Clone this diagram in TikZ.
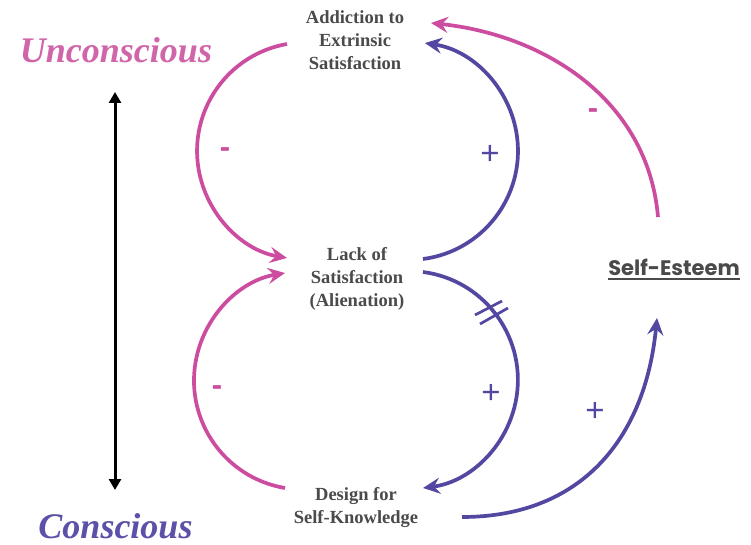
\documentclass[tikz,border=0pt]{standalone}
\usepackage{fontspec}
\setmainfont{Liberation Serif}
\newfontfamily\sesans{Poppins}
\newfontfamily\signfont{Liberation Sans}
\usetikzlibrary{arrows.meta}
\definecolor{pinkc}{HTML}{CC4D9F}
\definecolor{purpc}{HTML}{5247A1}
\definecolor{txtc}{HTML}{4A4A4A}
\definecolor{uncc}{HTML}{D065A9}
\definecolor{conc}{HTML}{5B51A8}
\begin{document}
\begin{tikzpicture}[x=1pt,y=1pt,
  lbl/.style={inner sep=0pt, anchor=base, text=txtc, font=\fontsize{18.5}{23}\selectfont\bfseries},
  arctip/.style={-{Stealth[length=17pt,width=16pt,inset=6pt]}},
  pinkarc/.style={draw=pinkc, line width=3.7pt, arctip},
  purparc/.style={draw=purpc, line width=3.7pt, arctip},
  minussign/.style={inner sep=0pt, text=pinkc, font=\signfont\bfseries\fontsize{31}{31}\selectfont},
  plussign/.style={inner sep=0pt, text=purpc, font=\signfont\fontsize{33}{33}\selectfont},
  levellbl/.style={inner sep=0pt, anchor=base, font=\bfseries\itshape\fontsize{36}{40}\selectfont}
]
\fill[white] (0,0) rectangle (751,-545);
\useasboundingbox (0,0) rectangle (751,-545);

% level labels
\node[levellbl, text=uncc] (uncon) at (116,-63) {Unconscious};
\node[levellbl, text=conc] (con) at (115.5,-538) {Conscious};
\coordinate (ltop) at (115,-92);
\coordinate (lbot) at (115,-490);
\draw[line width=3pt, {Triangle[length=11pt,width=12pt]}-{Triangle[length=11pt,width=12pt]}] (lbot) -- (ltop);

% main nodes
\node[lbl] (addict) at (355,-23.5) {\begin{tabular}[t]{@{}c@{}}Addiction to\\Extrinsic\\Satisfaction\end{tabular}};
\node[lbl] (lack) at (357,-260) {\begin{tabular}[t]{@{}c@{}}Lack of\\Satisfaction\\(Alienation)\end{tabular}};
\node[lbl] (design) at (356,-500) {\begin{tabular}[t]{@{}c@{}}Design for\\Self-Knowledge\end{tabular}};
\node[inner sep=0pt, anchor=base, text=txtc, font=\sesans\bfseries\fontsize{21}{25}\selectfont] (esteem) at (674,-275) {Self-Esteem};
\draw[txtc, line width=2pt] ([yshift=-4pt]esteem.base west) -- ([yshift=-4pt]esteem.base east);

% arc endpoints
\coordinate (a1s) at (287,-44);
\coordinate (a2s) at (423,-259);
\coordinate (a3s) at (285,-488);
\coordinate (a4s) at (423,-272);
\coordinate (a5s) at (658,-217);
\coordinate (a5e) at (431,-23);
\coordinate (a6s) at (462,-517);
\coordinate (a6e) at (657,-318);

\draw[pinkarc] (a1s) arc[start angle=99.9, end angle=260.1, radius=108.6];
\draw[purparc] (a2s) arc[start angle=-82.6, end angle=81.6, radius=109];
\draw[pinkarc] (a3s) arc[start angle=260.5, end angle=99.5, radius=109];
\draw[purparc] (a4s) arc[start angle=82.6, end angle=-82.6, radius=108.9];
\draw[pinkarc] (a5s) .. controls (648,-100) and (545,-35) .. (a5e);
\draw[purparc] (a6s) .. controls (580,-517) and (645,-440) .. (a6e);

% delay mark
\draw[purpc, line width=2.7pt] (475,-315) -- (502,-301);
\draw[purpc, line width=2.7pt] (480,-324) -- (508,-308);

% polarity signs
\node[minussign] (m1) at (225,-153) {-};
\node[minussign] (m2) at (217,-391) {-};
\node[minussign] (m3) at (593,-114) {-};
\node[plussign] (p1) at (490,-155) {+};
\node[plussign] (p2) at (491,-394) {+};
\node[plussign] (p3) at (595,-412) {+};
\end{tikzpicture}
\end{document}
